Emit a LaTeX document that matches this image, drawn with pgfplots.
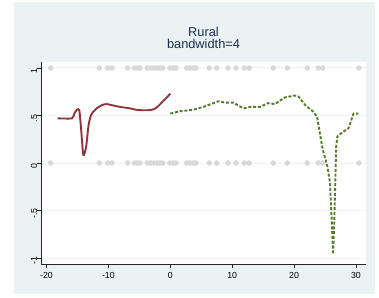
\documentclass[border=0pt]{standalone}
\usepackage{fontspec}
\setmainfont{Liberation Sans}
\usepackage{pgfplots}
\pgfplotsset{compat=1.18}
\definecolor{bgc}{RGB}{234,242,243}
\definecolor{gridc}{RGB}{234,242,243}
\definecolor{dotc}{RGB}{217,217,217}
\definecolor{redc}{RGB}{144,53,59}
\definecolor{greenc}{RGB}{87,122,46}
\definecolor{titlec}{RGB}{30,45,80}
\begin{document}
\begin{tikzpicture}[x=1pt,y=1pt]
\useasboundingbox (0,0) rectangle (379,297);
\fill[bgc] (14,3) rectangle (375,295);
\node[anchor=base,text=titlec,font=\fontsize{12.8}{14}\selectfont,inner sep=0pt] at (203.5,260.3) {Rural};
\node[anchor=base,text=titlec,font=\fontsize{12.8}{14}\selectfont,inner sep=0pt] at (203.5,248.7) {bandwidth=4};
\begin{axis}[
  at={(41.3pt,33pt)}, anchor=south west,
  scale only axis, width=324.7pt, height=202pt,
  xmin=-20.84, xmax=31.62, ymin=-1.063, ymax=1.063,
  axis x line*=bottom, axis y line*=left,
  axis line style={line width=0.9pt,black!85},
  axis background/.style={fill=white},
  tick align=outside, major tick length=4pt,
  tick style={line width=0.8pt,black!85},
  xtick={-20,-10,0,10,20,30}, xticklabels={-20,-10,0,10,20,30},
  ytick={-1,-0.5,0,0.5,1}, yticklabels={-1,-.5,0,.5,1},
  /pgf/number format/assume math mode=true,
  ticklabel style={font=\fontsize{8.8}{10}\selectfont, inner sep=0pt},
  xticklabel style={yshift=-4pt},
  yticklabel style={rotate=90, anchor=south, xshift=-3pt},
  ymajorgrids, grid style={gridc, line width=1pt},
  clip=false,
]
\addplot[only marks, mark=*, mark size=2.5pt, dotc, mark options={draw=dotc,fill=dotc}] coordinates {
(-19.33,1)(-11.47,1)(-10.12,1)(-9.42,1)(-6.89,1)(-5.81,1)(-5.32,1)(-4.89,1)
(-3.71,1)(-3.17,1)(-2.63,1)(-2.09,1)(-1.66,1)(-1.23,1)(-0.05,1)(0.49,1)(0.92,1)
(2.64,1)(3.18,1)(3.72,1)(4.15,1)(6.31,1)(7.49,1)(9.32,1)(10.61,1)(11.96,1)(12.77,1)
(16.64,1)(18.91,1)(22.13,1)(23.91,1)(24.61,1)(30.48,1)
(-19.33,0)(-11.47,0)(-10.12,0)(-9.42,0)(-6.89,0)(-5.81,0)(-5.32,0)(-4.89,0)
(-3.71,0)(-3.17,0)(-2.63,0)(-2.09,0)(-1.66,0)(-1.23,0)(-0.05,0)(0.49,0)(0.92,0)
(2.64,0)(3.18,0)(3.72,0)(4.15,0)(6.31,0)(7.49,0)(9.32,0)(10.61,0)(11.96,0)(12.77,0)
(16.64,0)(18.91,0)(22.13,0)(23.91,0)(24.61,0)(30.48,0)
};
\addplot[redc, line width=1.9pt, smooth, tension=0.4] coordinates {
(-18.2,0.47)(-15.9,0.47)(-15.5,0.52)(-15.1,0.56)(-14.7,0.555)(-14.4,0.35)(-14.05,0.085)
(-13.6,0.17)(-13.2,0.40)(-12.8,0.505)(-12.3,0.55)(-11.9,0.575)(-11.0,0.61)(-10.3,0.62)
(-9.2,0.605)(-8.1,0.59)(-6.5,0.575)(-5.5,0.56)(-4.4,0.555)(-3.5,0.556)(-2.7,0.565)
(-2.0,0.595)(-1.4,0.635)(-0.7,0.68)(0,0.73)
};
\addplot[greenc, line width=1.9pt, dash pattern=on 3pt off 1.8pt] coordinates {
(0,0.52)(1.6,0.545)(3.7,0.56)(5.3,0.59)(7.8,0.65)(8.8,0.635)(10.2,0.635)(11.8,0.575)
(12.9,0.59)(14.5,0.59)(15.8,0.63)(16.9,0.62)(18.5,0.69)(20.1,0.71)(20.7,0.70)(21.8,0.61)
(23.1,0.54)(23.7,0.49)(24.6,0.15)(25.4,-0.04)(25.8,-0.21)(26.1,-0.63)(26.3,-0.96)
(26.5,-0.62)(26.6,-0.35)(26.8,0.17)(27.0,0.28)(27.95,0.33)(28.8,0.365)(29.6,0.52)(30.4,0.52)
};
\end{axis}
\end{tikzpicture}
\end{document}
